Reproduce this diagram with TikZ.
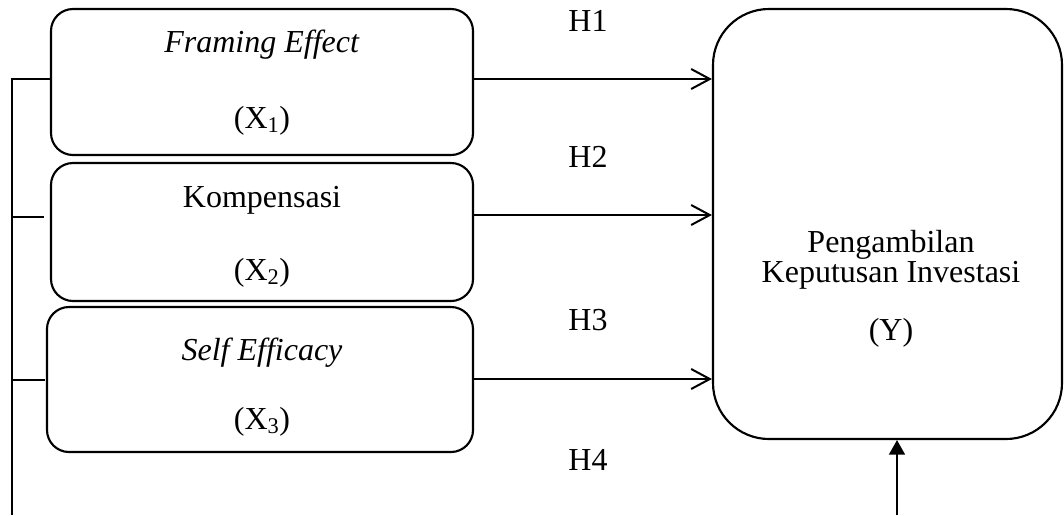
\documentclass[tikz,border=0pt]{standalone}
\usepackage{fontspec}
\setmainfont{Liberation Serif}
\usetikzlibrary{arrows.meta}
\begin{document}
\begin{tikzpicture}[x=0.75pt,y=-0.75pt,
  box/.style={draw, line width=1.6pt, rounded corners=16.5pt, inner sep=0pt},
  bigbox/.style={draw, line width=1.6pt, rounded corners=42pt, inner sep=0pt},
  txt/.style={anchor=base, inner sep=0pt, font=\fontsize{24}{28}\selectfont},
  conn/.style={line width=1.5pt},
  harrow/.style={line width=1.5pt, -{Straight Barb[length=14pt,width=15pt,line width=1.5pt]}},
  varrow/.style={line width=1.5pt, -{Triangle[length=11pt,width=12pt]}}]
\useasboundingbox (0,0) rectangle (1064,515);

% boxes
\node[box, minimum width=316.5pt, minimum height=109.5pt] (x1) at (262,82) {};
\node[box, minimum width=316.5pt, minimum height=103.5pt] (x2) at (262,232) {};
\node[box, minimum width=319.5pt, minimum height=108.75pt] (x3) at (260,379.5) {};
\node[bigbox, minimum width=261.75pt, minimum height=322.5pt] (y) at (887.5,224) {};

% texts
\node[txt] (t1) at (262,52) {\textit{Framing Effect}};
\node[txt] (s1) at (262,128) {(X\textsubscript{1})};
\node[txt] (t2) at (262,207) {Kompensasi};
\node[txt] (s2) at (262,280) {(X\textsubscript{2})};
\node[txt] (t3) at (262,360) {\textit{Self Efficacy}};
\node[txt] (s3) at (262,429) {(X\textsubscript{3})};
\node[txt] (ty1) at (891,252) {Pengambilan};
\node[txt] (ty2) at (891,282) {Keputusan Investasi};
\node[txt] (ty3) at (891,340) {(Y)};

% hypothesis labels
\node[txt] (h1) at (588,31) {H1};
\node[txt] (h2) at (588,167) {H2};
\node[txt] (h3) at (588,330) {H3};
\node[txt] (h4) at (588,470) {H4};

% arrow levels
\coordinate (a1) at (0,79);
\coordinate (a2) at (0,215);
\coordinate (a3) at (0,379);
\draw[harrow] (x1.east |- a1) -- (y.west |- a1);
\draw[harrow] (x2.east |- a2) -- (y.west |- a2);
\draw[harrow] (x3.east |- a3) -- (y.west |- a3);

% left bracket
\coordinate (lt) at (12,79);
\coordinate (lb) at (12,515);
\coordinate (st2) at (44,217);
\coordinate (st3) at (45,380);
\draw[conn] (x1.west |- a1) -- (lt) -- (lb);
\draw[conn] (lt |- st2) -- (st2);
\draw[conn] (lt |- st3) -- (st3);

% bottom arrow
\coordinate (bs) at (897,515);
\draw[varrow] (bs) -- (y.south -| bs);
\end{tikzpicture}
\end{document}
